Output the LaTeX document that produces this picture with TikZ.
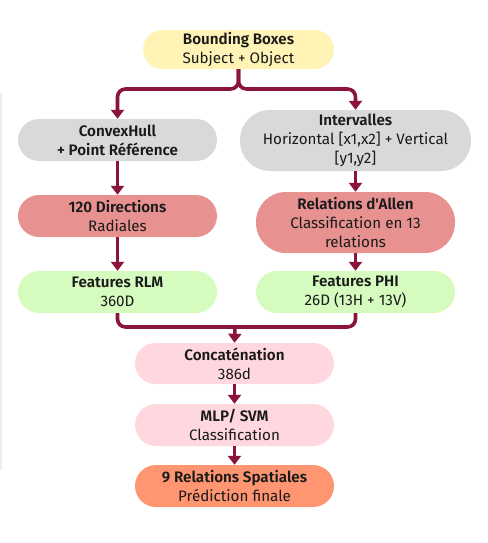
\documentclass[tikz,border=0pt]{standalone}
\usepackage{fontspec}
\setmainfont{Fira Sans}[Ligatures=TeXOff, BoldFont={Fira Sans SemiBold}]
\usetikzlibrary{arrows.meta}
\definecolor{cyel}{HTML}{FFF4B6}
\definecolor{cgry}{HTML}{D9D9D9}
\definecolor{cred}{HTML}{E79190}
\definecolor{cgrn}{HTML}{D5FBBF}
\definecolor{cpnk}{HTML}{FFD8DF}
\definecolor{corg}{HTML}{FF9571}
\definecolor{carr}{HTML}{8A1538}
\definecolor{ctxt}{HTML}{1A1A1A}
\tikzset{
  pill/.style={draw=none, inner sep=0pt, minimum width=199pt, minimum height=42pt,
    rounded corners=21pt, align=center, text=ctxt,
    font=\fontsize{15.2}{19}\selectfont},
  tallpill/.style={pill, minimum height=61pt, rounded corners=30pt},
  conn/.style={draw=carr, line width=3.6pt, rounded corners=8pt},
  arr/.style={conn, -{Triangle[width=13pt,length=9pt]}},
}
\begin{document}
\begin{tikzpicture}[x=1pt,y=-1pt]
\useasboundingbox (0,0) rectangle (487,543);
\fill[white] (0,0) rectangle (487,543);
\draw[draw=black!7, line width=1.5pt] (1,93) -- (1,470);

\node[pill, fill=cyel, minimum width=191pt, minimum height=39pt, rounded corners=19.5pt] (bb) at (238.5,49.5) {\textbf{Bounding Boxes}\\Subject + Object};
\node[pill, fill=cgry] (ch) at (117.5,140) {\textbf{ConvexHull}\\\textbf{+ Point Référence}};
\node[tallpill, fill=cgry, minimum width=231pt] (iv) at (355.5,140.5) {\textbf{Intervalles}\\Horizontal [x1,x2] + Vertical\\{}[y1,y2]};
\node[pill, fill=cred] (dir) at (117.5,216) {\textbf{120 Directions}\\Radiales};
\node[tallpill, fill=cred] (al) at (355.5,222.5) {\textbf{Relations d'Allen}\\Classification en 13\\relations};
\node[pill, fill=cgrn] (rlm) at (117.5,292) {\textbf{Features RLM}\\360D};
\node[pill, fill=cgrn] (phi) at (355.5,292) {\textbf{Features PHI}\\26D (13H + 13V)};
\node[pill, fill=cpnk, minimum height=41pt, rounded corners=20.5pt] (cc) at (234.5,363.5) {\textbf{Concaténation}\\386d};
\node[pill, fill=cpnk] (mlp) at (234.5,425) {\textbf{MLP/ SVM}\\Classification};
\node[pill, fill=corg] (res) at (234.5,486) {\textbf{9 Relations Spatiales}\\Prédiction finale};

\coordinate (split) at (238.5,89);
\coordinate (merge) at (235,327);

\draw[arr] (bb.south) -- (split) -| (ch.north);
\draw[arr] (bb.south) -- (split) -| (iv.north);
\draw[arr] (ch.south) -- (dir.north);
\draw[arr] (iv.south) -- (al.north);
\draw[arr] (dir.south) -- (rlm.north);
\draw[arr] (al.south) -- (phi.north);
\draw[conn] (rlm.south) -- (rlm.south |- merge) -- (phi.south |- merge) -- (phi.south);
\draw[arr] (merge) -- (cc.north);
\draw[arr] (cc.south) -- (mlp.north);
\draw[arr] (mlp.south) -- (res.north);
\end{tikzpicture}
\end{document}
